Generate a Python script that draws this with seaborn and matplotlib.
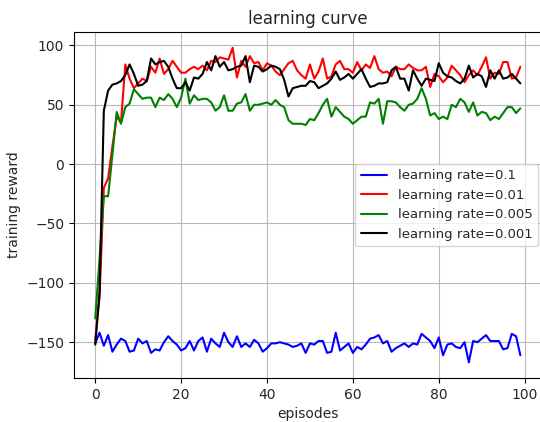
import matplotlib
matplotlib.use("Agg")
import matplotlib.pyplot as plt
import seaborn as sns
import numpy as np
import pandas as pd

episodes = list(range(100))

reward_lr_0_1 = [
    -151, -142, -153, -144, -158, -152, -147, -149, -158, -157,
    -147, -151, -149, -159, -156, -157, -150, -145, -149, -152,
    -157, -155, -149, -157, -149, -146, -158, -147, -151, -154,
    -142, -150, -154, -145, -154, -151, -154, -148, -151, -158,
    -155, -151, -151, -150, -151, -152, -154, -153, -151, -159,
    -151, -152, -149, -149, -159, -158, -142, -157, -154, -151,
    -159, -154, -156, -152, -147, -146, -144, -151, -149, -158,
    -155, -153, -151, -154, -151, -152, -143, -146, -149, -155,
    -146, -161, -152, -151, -154, -155, -150, -167, -149, -150,
    -147, -144, -149, -149, -149, -156, -155, -143, -145, -161,
]

reward_lr_0_01 = [
    -148, -112, -20, -12, 15, 40, 35, 84, 72, 64,
    68, 72, 70, 82, 77, 89, 76, 80, 87, 82,
    77, 77, 80, 82, 80, 83, 79, 87, 86, 90,
    89, 88, 98, 73, 87, 82, 91, 85, 86, 79,
    85, 83, 78, 75, 80, 85, 87, 79, 75, 72,
    84, 72, 78, 89, 72, 74, 84, 87, 80, 80,
    77, 86, 79, 84, 81, 91, 80, 77, 78, 74,
    82, 80, 80, 84, 81, 79, 79, 82, 65, 76,
    74, 69, 73, 83, 79, 75, 69, 75, 79, 75,
    82, 90, 72, 77, 76, 86, 86, 72, 73, 82,
]

reward_lr_0_005 = [
    -130, -80, -27, -27, 8, 44, 34, 48, 51, 63,
    59, 55, 56, 56, 48, 56, 54, 59, 55, 48,
    56, 72, 51, 58, 54, 55, 55, 52, 45, 48,
    58, 45, 45, 51, 52, 59, 45, 50, 50, 51,
    52, 50, 54, 50, 48, 37, 34, 34, 34, 33,
    38, 37, 43, 50, 55, 40, 48, 44, 40, 38,
    34, 37, 40, 40, 52, 51, 55, 34, 53, 53,
    52, 48, 45, 50, 51, 55, 64, 55, 41, 43,
    38, 40, 38, 50, 48, 55, 52, 44, 52, 41,
    44, 43, 37, 40, 38, 43, 48, 48, 43, 47,
]

reward_lr_0_001 = [
    -152, -108, 45, 62, 67, 68, 70, 75, 84, 76,
    66, 67, 70, 89, 84, 86, 87, 82, 72, 64,
    64, 69, 62, 73, 72, 76, 86, 79, 91, 82,
    86, 79, 80, 82, 83, 91, 69, 83, 82, 78,
    80, 83, 82, 80, 71, 57, 64, 65, 66, 66,
    70, 69, 64, 66, 68, 72, 78, 71, 73, 76,
    72, 76, 80, 72, 65, 66, 68, 68, 69, 79,
    82, 72, 72, 62, 79, 72, 66, 72, 71, 70,
    85, 77, 74, 73, 70, 68, 72, 83, 73, 76,
    74, 65, 79, 72, 79, 72, 73, 76, 72, 68,
]

series_labels = ["learning rate=0.1", "learning rate=0.01",
                 "learning rate=0.005", "learning rate=0.001"]
series_values = [reward_lr_0_1, reward_lr_0_01, reward_lr_0_005, reward_lr_0_001]
series_colors = ["blue", "red", "green", "black"]

sns.set_theme(style="ticks", rc={"axes.grid": True})
plt.rcParams["font.family"] = ["DejaVu Sans"]

fig = plt.figure(figsize=(5.40, 4.22), dpi=100)
ax = fig.add_axes([0.137, 0.104, 0.866, 0.820])

for label, values, color in zip(series_labels, series_values, series_colors):
    df = pd.DataFrame({"episodes": episodes, "reward": values})
    sns.lineplot(data=df, x="episodes", y="reward", color=color,
                 linewidth=1.5, label=label, ax=ax)

ax.grid(True, color="#b8b8b8", linewidth=0.8)
for spine in ax.spines.values():
    spine.set_visible(True)
    spine.set_color("black")
    spine.set_linewidth(0.8)
ax.tick_params(axis="both", labelsize=10, length=3.5, width=0.8, color="black")
ax.set_xticks([0, 20, 40, 60, 80, 100])
ax.set_yticks([-150, -100, -50, 0, 50, 100])

ax.set_title("learning curve", fontsize=12)
ax.set_xlabel("episodes", fontsize=10)
ax.set_ylabel("training reward", fontsize=10)
ax.legend(loc="center right", fontsize=9.5, frameon=True, fancybox=True,
          framealpha=0.8, edgecolor="#cccccc", borderaxespad=0.3)

fig.savefig("out.png", dpi=100, facecolor="white")
